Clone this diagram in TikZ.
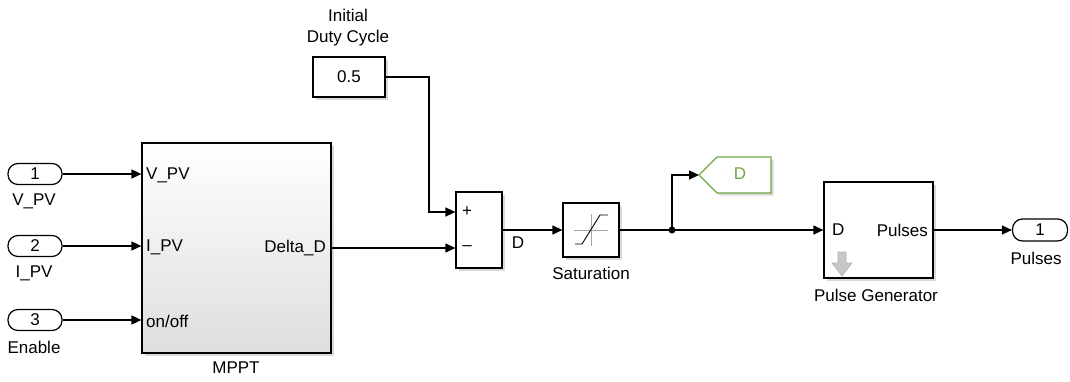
\documentclass[tikz,border=0pt]{standalone}
\usepackage{fontspec}
\setmainfont{Liberation Sans}
\usetikzlibrary{arrows.meta,shadows}
\definecolor{gotogreen}{RGB}{112,166,68}
\tikzset{x=1pt, y=-1pt,
    every node/.append style={font=\fontsize{17}{19}\selectfont, inner sep=0pt},
    blk/.style={draw, line width=1.2pt, fill=white,
        drop shadow={shadow xshift=2.5pt, shadow yshift=-2.5pt, opacity=0.3}},
    port/.style={draw, line width=1.2pt, rounded corners=10pt,
        minimum width=54pt, minimum height=21pt},
    wire/.style={line width=1.2pt},
    sig/.style={wire, -{Triangle[length=10pt,width=9pt]}}
}

\begin{document}
\begin{tikzpicture}
    \useasboundingbox (0,0) rectangle (1070,381);
    \node[blk, top color=white, bottom color=black!13,
        minimum width=189pt, minimum height=210pt] (mppt) at (236.5,248) {};
    \node (mpptlbl) at (236,368) {MPPT};
    \foreach \n/\y/\t/\p in {1/174/V\_PV/V\_PV, 2/246/I\_PV/I\_PV, 3/320/Enable/{on/off}} {
        \node[port] (in\n) at (35,\y) {\n};
        \node (inlbl\n) at (34,\y+27) {\t};
        \node[anchor=west] (mpptin\n) at (146,\y+1) {\p};
        \draw[sig] (in\n) -- (in\n -| mppt.west);
    }
    \node[anchor=east] (deltad) at (326,248) {Delta\_D};

    \node[blk, minimum width=72pt, minimum height=40pt] (const) at (349,77) {0.5};
    \node (constlbl1) at (348,15) {Initial};
    \node (constlbl2) at (348,38) {Duty Cycle};

    \node[blk, minimum width=46pt, minimum height=76pt] (sum) at (479,230) {};
    \node (plus) at (467,212) {+};
    \node (minus) at (467,248) {–};
    \coordinate (bend) at (429,212);
    \draw[sig] (const) -| (bend) -- (bend -| sum.west);
    \draw[sig] (mppt.east |- deltad) -- (sum.west |- deltad);

    \node[blk, minimum width=56pt, minimum height=54pt] (sat) at (591,230) {};
    \node (satlbl) at (591,273) {Saturation};
    \begin{scope}[shift={(sat.center)}]
        \draw[black!35, line width=0.8pt] (-17,0) -- (17,0) (0,-16) -- (0,16);
        \draw[line width=0.9pt] (-16,14) -- (-9,14) -- (9,-15) -- (17,-15);
    \end{scope}
    \draw[sig] (sum) -- (sat);
    \node (dlbl) at (518,243) {D};

    \node[blk, minimum width=109pt, minimum height=96pt] (pgen) at (878.5,230) {};
    \node[anchor=west] (pgenin) at (832,230) {D};
    \node[anchor=east] (pgenout) at (928,230) {Pulses};
    \node (pgenlbl) at (876,295) {Pulse Generator};
    \filldraw[draw=black!30, fill=black!22, line width=0.6pt]
        (838,252) -- (846,252) -- (846,263) -- (852,263) -- (842,276)
        -- (832,263) -- (838,263) -- cycle;

    \coordinate (split) at (672,230);
    \coordinate (gototip) at (699,175);
    \draw[wire] (sat) -- (split);
    \fill (split) circle (3.5pt);
    \draw[sig] (split) -- (pgen);
    \draw[sig] (split) |- (gototip);
    \draw[gotogreen, line width=1.2pt, fill=white,
        drop shadow={shadow xshift=2.5pt, shadow yshift=-2.5pt, opacity=0.3}]
        (gototip) -- (717,157) -- (771,157) -- (771,193) -- (717,193) -- cycle;
    \node[text=gotogreen] (gotolbl) at (740,174) {D};

    \node[port, minimum width=55pt, minimum height=22pt] (out1) at (1040,230) {1};
    \node (outlbl) at (1036,258) {Pulses};
    \draw[sig] (pgen) -- (out1);
\end{tikzpicture}
\end{document}
